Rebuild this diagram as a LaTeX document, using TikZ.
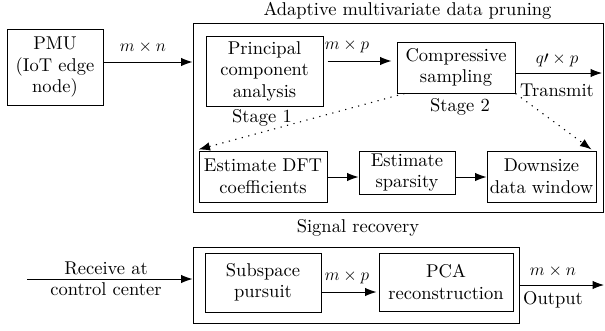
\documentclass[tikz,border=0pt]{standalone}
\usepackage{fontspec}
\setmainfont{lmroman10-regular.otf}[ItalicFont=lmroman10-italic.otf,BoldFont=lmroman10-bold.otf]
\usetikzlibrary{arrows.meta}
\begin{document}
\begin{tikzpicture}[x=1pt,y=-1pt,
  every node/.style={font=\fontsize{18.5}{21.5}\selectfont},
  blk/.style={draw,line width=1pt,inner sep=0pt,align=center},
  lbl/.style={inner sep=0pt,font=\fontsize{16}{19}\selectfont},
  txt/.style={inner sep=0pt,align=center},
  arr/.style={line width=1pt,-{Latex[length=11.5pt,width=8.5pt]}},
  dotarr/.style={line width=1.1pt,dash pattern=on 1.2pt off 5.5pt,-{Latex[length=11.5pt,width=8.5pt]}}]
\useasboundingbox (0,0) rectangle (605,330);
% nodes
\node[blk,minimum width=96pt,minimum height=76pt] (pmu) at (55,67) {PMU\\(IoT edge\\node)};
\node[blk,minimum width=410pt,minimum height=189pt] (big1) at (398,117.5) {};
\node[txt] (title) at (407.5,11) {Adaptive multivariate data pruning};
\node[blk,minimum width=117pt,minimum height=70pt] (pca) at (264.5,71) {Principal\\component\\analysis};
\node[txt] (st1) at (262,118) {Stage 1};
\node[blk,minimum width=118pt,minimum height=51pt] (cs) at (456,67.5) {Compressive\\sampling};
\node[txt] (st2) at (460,107) {Stage 2};
\node[blk,minimum width=128pt,minimum height=51pt] (dft) at (263,176.5) {Estimate DFT\\coefficients};
\node[blk,minimum width=96pt,minimum height=43pt] (sp) at (407,172.5) {Estimate\\sparsity};
\node[blk,minimum width=109pt,minimum height=51pt] (ds) at (541.5,176.5) {Downsize\\data window};
\node[txt] (sig) at (358,228) {Signal recovery};
\node[blk,minimum width=326pt,minimum height=76pt] (big2) at (356,285) {};
\node[blk,minimum width=116pt,minimum height=59pt] (ssp) at (263,282.5) {Subspace\\pursuit};
\node[blk,minimum width=134pt,minimum height=58pt] (pcar) at (446,282) {PCA\\reconstruction};
\node[txt] (recv) at (106,279) {Receive at\\control center};
\coordinate (rin) at (27,279);
\coordinate (tx) at (602,73);
\coordinate (out) at (604,285);
% labels
\node[lbl] (l1) at (143,47) {$m\times n$};
\node[lbl] (l2) at (347,46) {$m\times p$};
\node[lbl] (l3) at (557,60) {$q\prime\times p$};
\node[txt] (l4) at (557,90) {Transmit};
\node[lbl] (l5) at (347,277) {$m\times p$};
\node[lbl] (l6) at (553,271) {$m\times n$};
\node[txt] (l7) at (553,300) {Output};
% connectors
\draw[arr] ([yshift=5pt]pmu.east) -- ([yshift=5pt]pmu.east -| big1.west);
\draw[arr] ([yshift=10pt,xshift=4pt]pca.east) -- ([yshift=10pt,xshift=-5pt]pca.east -| cs.west);
\draw[arr] (cs.east |- tx) -- (tx);
\draw[dotarr] ([xshift=8pt]cs.south west) -- ([yshift=1pt]dft.north west);
\draw[dotarr] (cs.south east) -- ([xshift=-5pt,yshift=1pt]ds.north east);
\draw[arr] ([yshift=-0.5pt]dft.east) -- ([yshift=-0.5pt]dft.east -| sp.west);
\draw[arr] ([yshift=-4.5pt]sp.east) -- ([yshift=-4.5pt]sp.east -| ds.west);
\draw[arr] (rin) -- (rin -| big2.west);
\draw[arr] ([yshift=-9.5pt]ssp.east) -- ([yshift=-9.5pt,xshift=-2pt]ssp.east -| pcar.west);
\draw[arr] (big2.east |- out) -- (out);
\end{tikzpicture}
\end{document}
